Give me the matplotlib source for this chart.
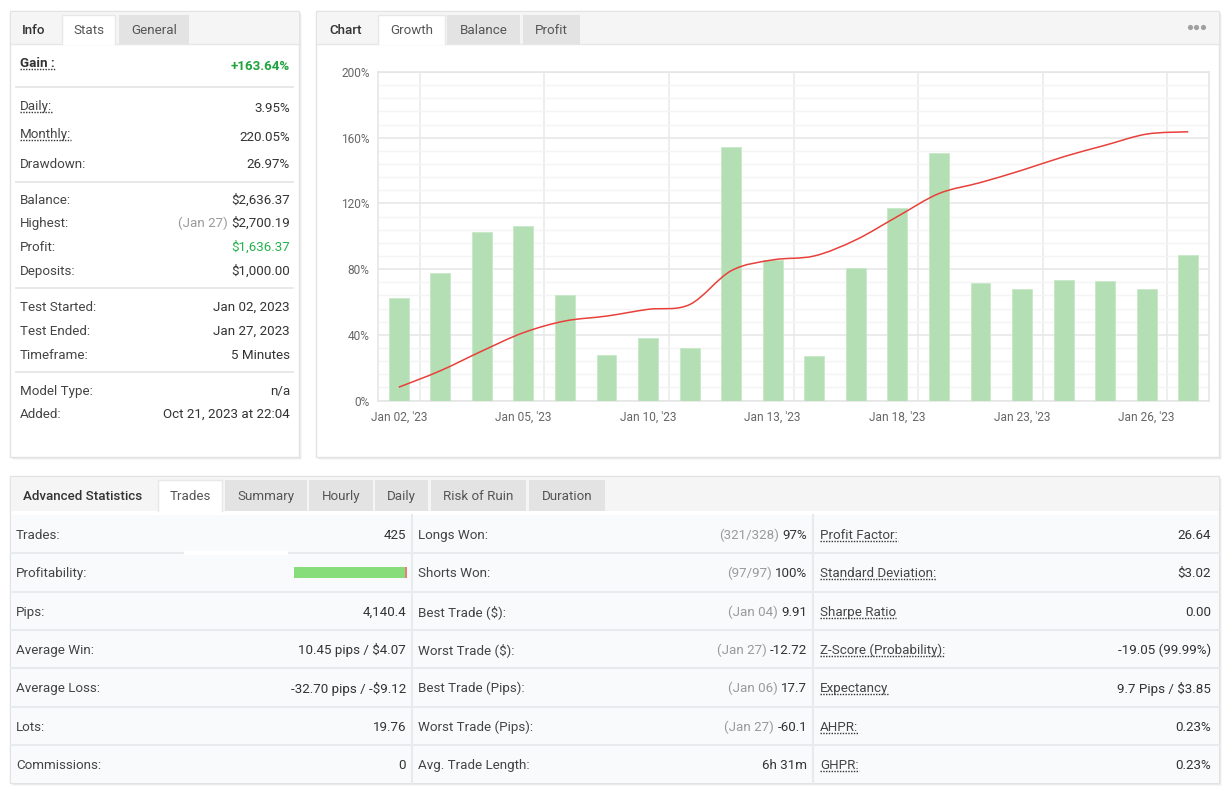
import matplotlib
matplotlib.use("Agg")
import matplotlib.pyplot as plt
from matplotlib.patches import Rectangle, PathPatch
from matplotlib.path import Path
import numpy as np

plt.rcParams['font.family'] = ['Roboto', 'DejaVu Sans']

# ---- data ----
days = ['Jan 02', 'Jan 03', 'Jan 04', 'Jan 05', 'Jan 06', 'Jan 09', 'Jan 10',
        'Jan 11', 'Jan 12', 'Jan 13', 'Jan 16', 'Jan 17', 'Jan 18', 'Jan 19',
        'Jan 20', 'Jan 23', 'Jan 24', 'Jan 25', 'Jan 26', 'Jan 27']
bar_pct = [62.6, 77.6, 102.4, 106.5, 64.0, 27.6, 38.0, 31.7, 154.5, 85.3,
           27.0, 80.5, 117.5, 150.4, 71.5, 68.1, 73.6, 72.8, 68.1, 88.6]
growth_pct = [8.1, 18.1, 30.1, 41.3, 48.4, 51.4, 55.5, 58.4, 79.0, 85.6,
              88.0, 97.8, 112.0, 126.0, 132.7, 140.2, 148.4, 155.4, 162.2, 163.6]
tick_days = [0, 3, 6, 9, 12, 15, 18]
y_ticks = [0, 40, 80, 120, 160, 200]

stats_labels = ['Gain :', 'Daily:', 'Monthly:', 'Drawdown:', 'Balance:', 'Highest:',
                'Profit:', 'Deposits:', 'Test Started:', 'Test Ended:', 'Timeframe:',
                'Model Type:', 'Added:']
stats_values = ['+163.64%', '3.95%', '220.05%', '26.97%', '$2,636.37', '$2,700.19',
                '$1,636.37', '$1,000.00', 'Jan 02, 2023', 'Jan 27, 2023', '5 Minutes',
                'n/a', 'Oct 21, 2023 at 22:04']
stats_notes = ['', '', '', '', '', '(Jan 27)', '', '', '', '', '', '', '']

col1_labels = ['Trades:', 'Profitability:', 'Pips:', 'Average Win:', 'Average Loss:',
               'Lots:', 'Commissions:']
col1_values = ['425', '', '4,140.4', '10.45 pips / $4.07', '-32.70 pips / -$9.12',
               '19.76', '0']
col2_labels = ['Longs Won:', 'Shorts Won:', 'Best Trade ($):', 'Worst Trade ($):',
               'Best Trade (Pips):', 'Worst Trade (Pips):', 'Avg. Trade Length:']
col2_notes = ['(321/328)', '(97/97)', '(Jan 04)', '(Jan 27)', '(Jan 06)', '(Jan 27)', '']
col2_values = ['97%', '100%', '9.91', '-12.72', '17.7', '-60.1', '6h 31m']
col3_labels = ['Profit Factor:', 'Standard Deviation:', 'Sharpe Ratio',
               'Z-Score (Probability):', 'Expectancy', 'AHPR:', 'GHPR:']
col3_values = ['26.64', '$3.02', '0.00', '-19.05 (99.99%)', '9.7 Pips / $3.85',
               '0.23%', '0.23%']
trades_won, trades_lost = 418, 7

left_tabs = ['Info', 'Stats', 'General']
chart_tabs = ['Chart', 'Growth', 'Balance', 'Profit']
adv_tabs = ['Advanced Statistics', 'Trades', 'Summary', 'Hourly', 'Daily',
            'Risk of Ruin', 'Duration']

# ---- canvas in pixel coords ----
W, H = 1231, 791
fig = plt.figure(figsize=(W / 100, H / 100), dpi=100)
fig.patch.set_facecolor('white')
bg = fig.add_axes([0, 0, 1, 1])
bg.set_xlim(0, W)
bg.set_ylim(H, 0)
bg.axis('off')
renderer = fig.canvas.get_renderer()

TXT = '#444444'
VAL = '#333333'
GREY = '#9a9a9a'
FS = 9.6
DY = 1.2  # matplotlib centres on the full box incl. descent, nudge down


def box(x0, y0, x1, y1, fc, ec='none', lw=1, z=1):
    bg.add_patch(Rectangle((x0, y0), x1 - x0, y1 - y0, fc=fc, ec=ec, lw=lw, zorder=z))


def txt(x, y, s, ha='left', color=TXT, size=FS, weight='normal', z=5):
    return bg.text(x, y + DY, s, ha=ha, va='center', color=color, fontsize=size,
                   fontweight=weight, zorder=z)


def extent(t):
    bb = t.get_window_extent(renderer)
    inv = bg.transData.inverted()
    (xa, ya), (xb, yb) = inv.transform([(bb.x0, bb.y0), (bb.x1, bb.y1)])
    return min(xa, xb), max(xa, xb), min(ya, yb), max(ya, yb)


def underline(t):
    x0, x1, ytop, ybot = extent(t)
    bg.plot([x0, x1], [ybot - 1, ybot - 1], color='#333333', lw=1,
            ls=(0, (1, 1)), zorder=6)


def note_value(x, y, value, note, color=VAL):
    t = txt(x, y, value, ha='right', color=color)
    if note:
        x0 = extent(t)[0]
        txt(x0 - 3, y, note, ha='right', color=GREY)


def panel(x0, y0, x1, y1):
    for d, a in [(3, 0.03), (2, 0.04), (1, 0.05)]:
        bg.add_patch(Rectangle((x0 + d, y0 + d), x1 - x0, y1 - y0, fc='black',
                               alpha=a, ec='none', zorder=0))
    box(x0, y0, x1, y1, 'white', '#e2e2e2', 1, z=1)


def tab(x0, x1, y0, y1, active):
    if active:
        box(x0, y0, x1, y1 + 1, 'white', 'none', z=3)
        bg.plot([x0, x0, x1, x1], [y1, y0, y0, y1], color='#e8e8e8', lw=1, zorder=3)
    else:
        box(x0, y0, x1, y1, '#e3e3e3', z=3)


# ---- left stats panel ----
panel(10, 11, 299, 457)
box(10.5, 11.5, 298.5, 44, '#f5f5f5', z=2)
bg.plot([10.5, 298.5], [44, 44], color='#e6e6e6', lw=1, zorder=2)
tab(62, 115, 15, 44, True)
tab(119, 189, 15, 44, False)
for s, cx, w in zip(left_tabs, [34, 88.5, 154], ['medium', 'normal', 'normal']):
    txt(cx, 29.5, s, ha='center', color='#333333' if w == 'medium' else '#555555',
        weight=w)

stat_y = [62, 105, 133, 163, 199, 222, 246, 270, 306, 330, 354, 390, 413]
val_dy = [3, 2, 3, 0, 0, 0, 0, 0, 0, 0, 0, 0, 0]
for i, (lab, val, nt) in enumerate(zip(stats_labels, stats_values, stats_notes)):
    y = stat_y[i]
    if i == 0:
        t = txt(20, y, lab, color='#333333', weight='bold')
        underline(t)
        txt(290, y + val_dy[i], val, ha='right', color='#1fa33d', weight='bold')
        continue
    t = txt(20, y, lab)
    if lab in ('Daily:', 'Monthly:'):
        underline(t)
    color = '#22b24c' if lab == 'Profit:' else VAL
    note_value(290, y + val_dy[i], val, nt, color=color)
for ys in [86.5, 182, 288, 372]:
    bg.plot([16, 293], [ys, ys], color='#e6e6e6', lw=1.3, zorder=2)

# ---- chart panel ----
panel(316, 11, 1219, 457)
box(316.5, 11.5, 1218.5, 44, '#f5f5f5', z=2)
bg.plot([316.5, 1218.5], [44, 44], color='#e6e6e6', lw=1, zorder=2)
tab(378, 445, 15, 44, True)
tab(447, 520, 15, 44, False)
tab(523, 580, 15, 44, False)
for s, cx, w in zip(chart_tabs, [346, 411.5, 483.5, 551.5],
                    ['medium', 'normal', 'normal', 'normal']):
    txt(cx, 29.5, s, ha='center', color='#333333' if w == 'medium' else '#555555',
        weight=w)
# menu dots
bg.scatter([1189.5, 1196, 1202.5], [27, 27, 27], s=14, color='#a0a0a0',
           lw=0, zorder=5)

ax = fig.add_axes([378 / W, 1 - 400.5 / H, (1209 - 378) / W, (400.5 - 72) / H])
ax.set_zorder(2)
ax.set_facecolor('white')
x = np.arange(len(days))
ax.bar(x, bar_pct, width=0.48, color='#b4dfb4', edgecolor='#c8e8c8', lw=0.6, zorder=3)

# smooth spline through the growth points (Catmull-Rom -> cubic Bezier)
gy = np.array(growth_pct)
verts = [(x[0], gy[0])]
codes = [Path.MOVETO]
for i in range(len(x) - 1):
    p0 = (x[max(i - 1, 0)], gy[max(i - 1, 0)])
    p1 = (x[i], gy[i])
    p2 = (x[i + 1], gy[i + 1])
    p3 = (x[min(i + 2, len(x) - 1)], gy[min(i + 2, len(x) - 1)])
    c1 = (p1[0] + (p2[0] - p0[0]) / 6, p1[1] + (p2[1] - p0[1]) / 6)
    c2 = (p2[0] - (p3[0] - p1[0]) / 6, p2[1] - (p3[1] - p1[1]) / 6)
    verts += [c1, c2, p2]
    codes += [Path.CURVE4] * 3
ax.add_patch(PathPatch(Path(verts, codes), fc='none', ec='#e8403a', lw=1.1, zorder=4))

ax.set_xlim(-0.5, len(days) - 0.5)
ax.set_ylim(0, 200)
ax.set_yticks(y_ticks)
ax.set_yticklabels([f'{v}%' for v in y_ticks])
ax.set_yticks(np.arange(0, 201, 8), minor=True)
ax.set_xticks(tick_days)
ax.set_xticklabels([f"{days[i]}, '23" for i in tick_days])
ax.set_xticks([i + 0.5 for i in tick_days], minor=True)
ax.tick_params(length=0, which='both', labelsize=8.6, colors='#666666')
ax.tick_params(axis='x', pad=7.5)
ax.tick_params(axis='y', pad=6)
ax.grid(axis='y', which='major', color='#e8e8e8', lw=1.2, zorder=0)
ax.grid(axis='y', which='minor', color='#f4f4f4', lw=1, zorder=0)
ax.grid(axis='x', which='minor', color='#ebebeb', lw=1.2, zorder=0)
ax.grid(axis='x', which='major', visible=False)
ax.set_axisbelow(True)
for sp in ax.spines.values():
    sp.set_color('#e6e6e6')
    sp.set_linewidth(1.2)

# ---- advanced statistics panel ----
panel(10, 476, 1219, 783)
box(10.5, 476.5, 1218.5, 511, '#f5f5f5', z=2)
tab_x = [(158, 222), (225, 307), (309, 373), (375, 428), (431, 526), (529, 605)]
for j, (x0, x1) in enumerate(tab_x):
    tab(x0, x1, 480, 511, j == 0)
txt(23, 495, adv_tabs[0], color='#333333', weight='medium')
for s, (x0, x1) in zip(adv_tabs[1:], tab_x):
    txt((x0 + x1) / 2, 495, s, ha='center', color='#555555')

row_top = 515
row_h = 38.35
box(10.5, row_top, 1218.5, 783, '#f9fafc', z=2)
for r in range(1, len(col1_labels)):
    yy = row_top + r * row_h
    bg.plot([10.5, 1218.5], [yy, yy], color='#e8ebee', lw=1.5, zorder=3)
box(184, row_top + row_h - 2, 288, row_top + row_h + 1.5, 'white', z=3)
for xv in [412, 813]:
    bg.plot([xv, xv], [row_top, 783], color='#e8ebee', lw=1.5, zorder=3)

for r in range(len(col1_labels)):
    yc = row_top + (r + 0.5) * row_h
    txt(16, yc, col1_labels[r])
    if col1_values[r]:
        txt(406, yc, col1_values[r], ha='right', color=VAL)
    txt(418, yc, col2_labels[r])
    note_value(807, yc, col2_values[r], col2_notes[r])
    t = txt(820, yc, col3_labels[r])
    underline(t)
    txt(1211, yc, col3_values[r], ha='right', color=VAL)

# profitability bar
pb_x0, pb_x1 = 293.5, 406.5
pb_y = row_top + 1.5 * row_h
frac = trades_won / (trades_won + trades_lost)
xm = pb_x0 + (pb_x1 - pb_x0) * frac
box(pb_x0, pb_y - 5.5, xm, pb_y + 5.5, '#86dd7a', z=4)
box(xm, pb_y - 5.5, pb_x1, pb_y + 5.5, '#f07a7a', z=4)

fig.savefig('out.png', dpi=100, facecolor='white')
